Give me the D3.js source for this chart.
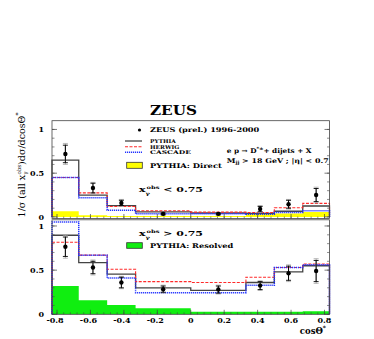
<!DOCTYPE html>
<html>
<head>
<meta charset="utf-8">
<script src="https://cdn.jsdelivr.net/npm/d3@7"></script>
<style>
  body { margin: 0; background: #fff; }
  svg text { font-family: "DejaVu Serif", serif; }
</style>
</head>
<body>
<svg id="chart" width="374" height="339"></svg>
<script>
// bin edges in cos(theta*)
const edges = [-0.83, -0.67, -0.5, -0.33, 0, 0.33, 0.5, 0.67, 0.83];
const pointX = [-0.75, -0.585, -0.415, -0.165, 0.165, 0.415, 0.585, 0.75];

// x_gamma^obs < 0.75
const dataLo = [0.72, 0.33, 0.16, 0.035, 0.035, 0.09, 0.145, 0.25];
const statLo = [0.1, 0.055, 0.03, 0.01, 0.01, 0.03, 0.045, 0.075];
const totLo = [0.12, 0.065, 0.04, 0.015, 0.015, 0.04, 0.055, 0.09];
const pythiaLo = [0.65, 0.25, 0.13, 0.057, 0.045, 0.04, 0.065, 0.125];
const herwigLo = [0.45, 0.275, 0.12, 0.07, 0.055, 0.05, 0.105, 0.155];
const cascadeLo = [0.45, 0.22, 0.077, 0.035, 0.035, 0.03, 0.05, 0.07];
const directLo = [0.065, 0.018, 0.012, 0.01, 0.012, 0.035, 0.04, 0.055];

// x_gamma^obs > 0.75
const dataHi = [0.765, 0.53, 0.36, 0.285, 0.28, 0.325, 0.465, 0.49];
const statHi = [0.11, 0.07, 0.06, 0.035, 0.04, 0.045, 0.08, 0.12];
const totHi = [0.13, 0.085, 0.07, 0.045, 0.05, 0.055, 0.095, 0.14];
const pythiaHi = [0.895, 0.585, 0.455, 0.3, 0.27, 0.36, 0.48, 0.55];
const herwigHi = [0.815, 0.67, 0.51, 0.37, 0.36, 0.42, 0.53, 0.57];
const cascadeHi = [1.045, 0.67, 0.41, 0.245, 0.245, 0.33, 0.53, 0.56];
const resolvedHi = [0.32, 0.16, 0.105, 0.068, 0.03, 0.03, 0.03, 0.035];

const xTicks = [-0.8, -0.6, -0.4, -0.2, 0, 0.2, 0.4, 0.6, 0.8];
const yTicks = [0, 0.5, 1];

const svg = d3.select("#chart");
const x = d3.scaleLinear().domain([-0.83, 0.83]).range([52, 329.5]);

const panels = [
  { y: d3.scaleLinear().domain([-0.018, 1.1]).range([218.5, 120.7]),
    data: dataLo, stat: statLo, tot: totLo, fill: directLo, fillColor: "#ffff00",
    pythia: pythiaLo, herwig: herwigLo, cascade: cascadeLo },
  { y: d3.scaleLinear().domain([0, 1.07]).range([314.3, 219.8]),
    data: dataHi, stat: statHi, tot: totHi, fill: resolvedHi, fillColor: "#10ee10",
    pythia: pythiaHi, herwig: herwigHi, cascade: cascadeHi }
];

// outline of a histogram, starting and ending on zero
function histPath(vals, y) {
  let p = `M${x(edges[0])},${y(0)}`;
  vals.forEach((v, i) => {
    p += `L${x(edges[i])},${y(v)}L${x(edges[i + 1])},${y(v)}`;
  });
  p += `L${x(edges[edges.length - 1])},${y(0)}`;
  return p;
}

panels.forEach((pn) => {
  const y = pn.y;
  const g = svg.append("g");
  const [y0, y1] = y.range();

  // filled MC component
  g.append("path")
    .attr("d", histPath(pn.fill, y) + "Z")
    .attr("fill", pn.fillColor)
    .attr("stroke", "none");

  g.append("path").attr("d", histPath(pn.pythia, y))
    .attr("fill", "none").attr("stroke", "#444").attr("stroke-width", 1.3);
  g.append("path").attr("d", histPath(pn.herwig, y))
    .attr("fill", "none").attr("stroke", "#ff2a2a").attr("stroke-width", 1.1)
    .attr("stroke-dasharray", "3,1.5");
  g.append("path").attr("d", histPath(pn.cascade, y))
    .attr("fill", "none").attr("stroke", "#2233ff").attr("stroke-width", 1.5)
    .attr("stroke-dasharray", "1.2,0.8");

  // frame
  g.append("rect")
    .attr("x", x.range()[0]).attr("y", y1)
    .attr("width", x.range()[1] - x.range()[0]).attr("height", y0 - y1)
    .attr("fill", "none").attr("stroke", "#444").attr("stroke-width", 0.8);

  // x ticks (inside, bottom)
  const minorX = d3.range(-0.8, 0.8001, 0.04);
  g.selectAll(".xminor").data(minorX).join("line")
    .attr("x1", (d) => x(d)).attr("x2", (d) => x(d))
    .attr("y1", y0).attr("y2", y0 - 2)
    .attr("stroke", "#444").attr("stroke-width", 0.6);
  g.selectAll(".xmajor").data(xTicks).join("line")
    .attr("x1", (d) => x(d)).attr("x2", (d) => x(d))
    .attr("y1", y0).attr("y2", y0 - 4.5)
    .attr("stroke", "#444").attr("stroke-width", 0.7);

  // y ticks both sides
  const minorY = d3.range(0, y.domain()[1], 0.1);
  [x.range()[0], x.range()[1]].forEach((xe, k) => {
    const dir = k === 0 ? 1 : -1;
    g.selectAll(null).data(minorY).join("line")
      .attr("x1", xe).attr("x2", xe + dir * 2.5)
      .attr("y1", (d) => y(d)).attr("y2", (d) => y(d))
      .attr("stroke", "#444").attr("stroke-width", 0.6);
    g.selectAll(null).data(yTicks).join("line")
      .attr("x1", xe).attr("x2", xe + dir * 5)
      .attr("y1", (d) => y(d)).attr("y2", (d) => y(d))
      .attr("stroke", "#444").attr("stroke-width", 0.7);
  });

  g.selectAll(".ylab").data(yTicks).join("text")
    .attr("x", 44).attr("y", (d) => y(d) + 3)
    .attr("text-anchor", "end")
    .attr("font-size", 8).attr("font-weight", "bold")
    .text((d) => d3.format("")(d));

  // data: total error (grey), stat error (black), marker
  pointX.forEach((px, i) => {
    const cx = x(px);
    const v = pn.data[i];
    g.append("line")
      .attr("x1", cx).attr("x2", cx)
      .attr("y1", y(v + pn.tot[i])).attr("y2", y(v - pn.tot[i]))
      .attr("stroke", "#aaa").attr("stroke-width", 1);
    [v + pn.tot[i], v - pn.tot[i]].forEach((e) => {
      g.append("line").attr("x1", cx - 2.5).attr("x2", cx + 2.5)
        .attr("y1", y(e)).attr("y2", y(e))
        .attr("stroke", "#aaa").attr("stroke-width", 0.8);
    });
    g.append("line")
      .attr("x1", cx).attr("x2", cx)
      .attr("y1", y(v + pn.stat[i])).attr("y2", y(v - pn.stat[i]))
      .attr("stroke", "#000").attr("stroke-width", 1);
    [v + pn.stat[i], v - pn.stat[i]].forEach((e) => {
      g.append("line").attr("x1", cx - 2.5).attr("x2", cx + 2.5)
        .attr("y1", y(e)).attr("y2", y(e))
        .attr("stroke", "#000").attr("stroke-width", 0.9);
    });
    g.append("circle").attr("cx", cx).attr("cy", y(v)).attr("r", 2.2)
      .attr("fill", "#000");
  });
});

// x tick labels
svg.selectAll(".xlab").data(xTicks).join("text")
  .attr("x", (d) => x(d) - (d < 0 ? 2 : 0)).attr("y", 323)
  .attr("text-anchor", "middle")
  .attr("font-size", 8).attr("font-weight", "bold")
  .text((d) => (d === 0 ? "0" : (d < 0 ? "-" : "") + d3.format(".1f")(Math.abs(d))));

// axis titles
const xt = svg.append("text").attr("x", 326).attr("y", 334)
  .attr("text-anchor", "end").attr("font-size", 8.5).attr("font-weight", "bold");
xt.append("tspan").text("cos\u0398");
xt.append("tspan").attr("dy", -4).attr("font-size", 6).text("*");

const yt = svg.append("text")
  .attr("transform", "translate(25,165) rotate(-90)")
  .attr("text-anchor", "middle")
  .attr("font-family", "Liberation Serif, serif")
  .attr("font-size", 9.5);
yt.append("tspan").text("1/\u03c3 (all x");
yt.append("tspan").attr("dy", 2).attr("font-size", 5.5).text("\u03b3");
yt.append("tspan").attr("dx", -3).attr("dy", -6).attr("font-size", 5.5).text("obs");
yt.append("tspan").attr("dy", 4).text(")d\u03c3/dcos\u0398");
yt.append("tspan").attr("dy", -5).attr("font-size", 6).text("*");

// title
svg.append("text").attr("x", 150).attr("y", 115)
  .attr("font-family", "Liberation Serif, serif")
  .attr("font-size", 12.5).attr("font-weight", "bold")
  .attr("textLength", 47).attr("lengthAdjust", "spacingAndGlyphs")
  .text("ZEUS");

// legend text is stretched sideways like the original
const leg = svg.append("g");
function wide(xp, yp, target, build, size) {
  const g = leg.append("g").attr("transform", `translate(${xp},${yp})`);
  const t = g.append("text")
    .attr("font-family", "Liberation Serif, serif")
    .attr("font-weight", "bold")
    .attr("font-size", size || 6.5);
  build(t);
  const w = t.node().getBBox().width;
  g.attr("transform", `translate(${xp},${yp}) scale(${target / w},1)`);
}

leg.append("circle").attr("cx", 139.5).attr("cy", 130).attr("r", 1.6).attr("fill", "#000");
wide(150, 132.3, 110, (t) => t.text("ZEUS (prel.) 1996-2000"));

const legLines = [
  { label: "PYTHIA", y: 141, stroke: "#444", w: 1.3, dash: null, len: 27 },
  { label: "HERWIG", y: 146.7, stroke: "#ff2a2a", w: 1.1, dash: "3,1.5", len: 30 },
  { label: "CASCADE", y: 152.3, stroke: "#2233ff", w: 1.5, dash: "1.2,0.8", len: 41 }
];
legLines.forEach((l) => {
  leg.append("line").attr("x1", 125).attr("x2", 142).attr("y1", l.y).attr("y2", l.y)
    .attr("stroke", l.stroke).attr("stroke-width", l.w)
    .attr("stroke-dasharray", l.dash);
  wide(150, l.y + 1.9, l.len, (t) => t.text(l.label), 5.2);
});
leg.append("rect").attr("x", 126.7).attr("y", 162.3).attr("width", 15.6).attr("height", 6)
  .attr("fill", "#ffff00").attr("stroke", "#333").attr("stroke-width", 0.8);
wide(150, 167.5, 72, (t) => t.text("PYTHIA: Direct"));

leg.append("rect").attr("x", 126.7).attr("y", 242.7).attr("width", 15.6).attr("height", 5.6)
  .attr("fill", "#10ee10").attr("stroke", "#333").attr("stroke-width", 0.8);
wide(150, 247.8, 84, (t) => t.text("PYTHIA: Resolved"));

// process text
wide(226.7, 152.5, 86, (t) => {
  t.append("tspan").text("e p \u2192 D");
  t.append("tspan").attr("dy", -2.5).attr("font-size", 4.5).text("*\u00b1");
  t.append("tspan").attr("dy", 2.5).text("+ dijets + X");
});
wide(226.7, 162.5, 102, (t) => {
  t.append("tspan").text("M");
  t.append("tspan").attr("dy", 1.5).attr("font-size", 4.5).text("jj");
  t.append("tspan").attr("dy", -1.5).text(" > 18 GeV ; |\u03b7| < 0.7");
});

// x_gamma cuts
function xgLabel(yb, txt) {
  wide(139, yb, 64, (t) => {
    t.append("tspan").text("x");
    t.append("tspan").attr("dy", 2.5).attr("font-size", 4.5).text("\u03b3");
    t.append("tspan").attr("dx", -2.3).attr("dy", -5.5).attr("font-size", 4.5).text("obs");
    t.append("tspan").attr("dy", 3).text(txt);
  }, 7.3);
}
xgLabel(192, " < 0.75");
xgLabel(236, " > 0.75");
</script>
</body>
</html>
